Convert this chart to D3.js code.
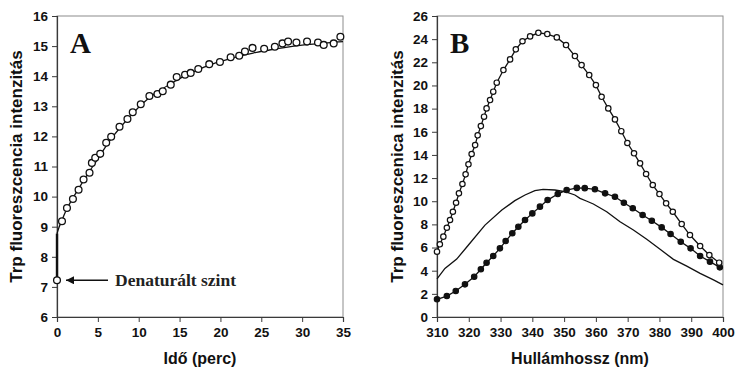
<!DOCTYPE html>
<html>
<head>
<meta charset="utf-8">
<script src="https://cdn.jsdelivr.net/npm/d3@7"></script>
<style>
  body { margin: 0; background: #fff; }
  svg { display: block; }
  .tick text { font-family: "Liberation Sans", Arial, sans-serif; font-weight: bold; }
</style>
</head>
<body>
<div id="chart"></div>
<script>
// panel A: refolding kinetics (measured points + fitted curve)
const timeA = [0, 0.61, 1.22, 1.95, 2.64, 3.25, 3.98, 4.27, 4.68, 5.29, 6.02, 6.63, 7.65, 8.62, 9.27,
  10.25, 11.31, 12.29, 12.94, 13.92, 14.65, 15.67, 16.36, 17.29, 18.63, 19.94, 21.25, 22.3, 23.0,
  23.93, 25.35, 26.66, 27.59, 28.28, 29.3, 30.6, 31.94, 32.64, 33.86, 34.68];
const intensityA = [7.22, 9.18, 9.62, 9.92, 10.23, 10.57, 10.79, 11.12, 11.29, 11.42, 11.79, 11.99, 12.32,
  12.58, 12.8, 13.07, 13.34, 13.41, 13.5, 13.72, 13.97, 14.05, 14.11, 14.24, 14.4, 14.47, 14.63, 14.68,
  14.82, 14.94, 14.91, 14.98, 15.09, 15.15, 15.12, 15.15, 15.12, 15.04, 15.09, 15.31];
// fitted curve, starting right after the jump at t = 0
const fitTimeA = [0, 0.25, 0.5, 1, 1.5, 2, 3, 4, 5, 6, 7, 8, 9, 10, 11, 12, 13, 14, 15, 16, 17, 18,
  19, 20, 21, 22, 23, 24, 26, 28, 30, 32, 34, 35];
const fitA = [8.77, 8.98, 9.14, 9.47, 9.74, 9.98, 10.42, 10.85, 11.25, 11.68, 12.05, 12.38, 12.68,
  12.97, 13.22, 13.43, 13.6, 13.76, 13.92, 14.06, 14.18, 14.3, 14.4, 14.49, 14.57, 14.64, 14.71,
  14.77, 14.87, 14.96, 15.03, 15.08, 15.13, 15.15];
const xTicksA = [0, 5, 10, 15, 20, 25, 30, 35];
const yTicksA = [6, 7, 8, 9, 10, 11, 12, 13, 14, 15, 16];

// panel B: emission spectra
const waveOpen = [310, 310.9, 312, 313.1, 314.1, 315, 316, 316.9, 318, 319, 319.9, 320.9, 322, 322.8,
  323.8, 324.8, 325.6, 326.7, 327.7, 328.8, 330.9, 333, 334.8, 336.9, 339.3, 341.9, 344.7, 347.7,
  350.6, 353.4, 355.5, 357.9, 360, 361.8, 363.9, 366, 368, 369.9, 372, 373.9, 375.8, 377.9, 380,
  382.1, 384.2, 387, 389.6, 392.8, 395.7, 398.8];
const openVals = [5.64, 6.28, 6.94, 7.71, 8.38, 9.09, 9.87, 10.68, 11.49, 12.32, 13.19, 14.08, 14.85,
  15.69, 16.49, 17.3, 18.02, 18.74, 19.46, 20.24, 21.33, 22.25, 23.12, 23.82, 24.24, 24.55, 24.44,
  24.15, 23.49, 22.54, 21.76, 20.9, 20.03, 19.02, 18.02, 17.07, 16.05, 15.03, 14.14, 13.27, 12.35,
  11.4, 10.62, 9.82, 9.09, 8.03, 7.08, 6.13, 5.35, 4.69];
const waveFilled = [310, 313.1, 315.9, 318.8, 321.7, 323.8, 325.6, 327.7, 329.8, 331.6, 333.7, 335.6,
  337.7, 340, 342.4, 344.8, 348, 350.8, 354, 356.5, 359.7, 362.9, 366, 368.8, 371.6, 374.7, 377.6,
  380.7, 383.5, 386.7, 389.8, 392.8, 395.9, 399];
const filledVals = [1.53, 1.81, 2.25, 2.82, 3.48, 4.12, 4.69, 5.27, 5.93, 6.56, 7.23, 7.8, 8.38, 8.95,
  9.53, 10.1, 10.62, 10.97, 11.15, 11.13, 11.03, 10.68, 10.39, 9.87, 9.39, 8.81, 8.32, 7.74, 7.17,
  6.5, 5.93, 5.27, 4.78, 4.29];
const waveLine = [310, 312.5, 316.2, 319.9, 325.1, 330.4, 334.5, 337.7, 340.8, 343.4, 347.1, 350.3,
  353.4, 355, 357, 359.2, 363.4, 367.6, 371.8, 376, 380.2, 384.4, 388.6, 392.8, 397, 400];
const lineVals = [3.3, 4.2, 5.0, 6.22, 7.94, 9.24, 10.05, 10.54, 10.91, 11.03, 10.97, 10.82, 10.54,
  10.25, 10.02, 9.76, 9.09, 8.23, 7.51, 6.71, 5.85, 4.98, 4.4, 3.77, 3.2, 2.78];
const xTicksB = [310, 320, 330, 340, 350, 360, 370, 380, 390, 400];
const yTicksB = [0, 2, 4, 6, 8, 10, 12, 14, 16, 18, 20, 22, 24, 26];

const W = 735, H = 367;
const sans = "'Liberation Sans', Arial, sans-serif";
const serif = "'Liberation Serif', 'Times New Roman', serif";

const svg = d3
  .select("#chart")
  .append("svg")
  .attr("width", W)
  .attr("height", H);

svg.append("rect").attr("width", W).attr("height", H).attr("fill", "#fff");

// draws frame, axes and titles of one panel, returns scales and group
function panel(opts) {
  const x = d3.scaleLinear().domain(opts.xDomain).range([opts.left, opts.left + opts.width]);
  const y = d3.scaleLinear().domain(opts.yDomain).range([opts.top + opts.height, opts.top]);
  const g = svg.append("g");

  // grey plot border (top/right)
  g.append("rect")
    .attr("x", opts.left)
    .attr("y", opts.top)
    .attr("width", opts.width)
    .attr("height", opts.height)
    .attr("fill", "none")
    .attr("stroke", "#8c8c8c")
    .attr("stroke-width", 1);

  const xAxis = g
    .append("g")
    .attr("transform", `translate(0,${opts.top + opts.height})`)
    .call(d3.axisBottom(x).tickValues(opts.xTicks).tickSize(5).tickPadding(5));
  const yAxis = g
    .append("g")
    .attr("transform", `translate(${opts.left},0)`)
    .call(d3.axisLeft(y).tickValues(opts.yTicks).tickSize(5).tickPadding(4));

  [xAxis, yAxis].forEach(function(a) {
    a.select(".domain").attr("stroke", "#3a3a3a").attr("stroke-width", 1.2);
    a.selectAll(".tick line").attr("stroke", "#3a3a3a");
    a.selectAll(".tick text").attr("fill", "#111").style("font-size", "13.5px");
  });

  g.append("text")
    .attr("x", opts.left + opts.width / 2)
    .attr("y", 364)
    .attr("text-anchor", "middle")
    .style("font-family", sans)
    .style("font-weight", "bold")
    .style("font-size", "16px")
    .attr("fill", "#111")
    .text(opts.xTitle);

  g.append("text")
    .attr("transform", `translate(${opts.yTitleX},${opts.top + opts.height / 2}) rotate(-90)`)
    .attr("text-anchor", "middle")
    .attr("dy", "0.35em")
    .style("font-family", sans)
    .style("font-weight", "bold")
    .style("font-size", "17px")
    .attr("fill", "#111")
    .text(opts.yTitle);

  g.append("text")
    .attr("x", opts.left + 13)
    .attr("y", opts.top + 37)
    .style("font-family", serif)
    .style("font-weight", "bold")
    .style("font-size", "29px")
    .attr("fill", "#111")
    .text(opts.letter);

  return { x: x, y: y, g: g };
}

// ---- panel A ----
const A = panel({
  left: 57, top: 16, width: 286, height: 301,
  xDomain: [0, 35], yDomain: [6, 16],
  xTicks: xTicksA, yTicks: yTicksA,
  xTitle: "Idő (perc)", yTitle: "Trp fluoreszcencia intenzitás",
  yTitleX: 16, letter: "A"
});

const fitLineA = d3
  .line()
  .x(function(d) { return A.x(d[0]); })
  .y(function(d) { return A.y(d[1]); })
  .curve(d3.curveMonotoneX);

A.g.append("path")
  .datum(fitTimeA.map(function(t, i) { return [t, fitA[i]]; }))
  .attr("d", fitLineA)
  .attr("fill", "none")
  .attr("stroke", "#111")
  .attr("stroke-width", 1.3);

// thicker jump at t = 0, from the denatured level up to the start of the fit
A.g.append("line")
  .attr("x1", A.x(0)).attr("x2", A.x(0))
  .attr("y1", A.y(intensityA[0])).attr("y2", A.y(fitA[0]))
  .attr("stroke", "#111")
  .attr("stroke-width", 2.4);

A.g.selectAll("circle.pt")
  .data(timeA.map(function(t, i) { return [t, intensityA[i]]; }))
  .enter()
  .append("circle")
  .attr("class", "pt")
  .attr("cx", function(d) { return A.x(d[0]); })
  .attr("cy", function(d) { return A.y(d[1]); })
  .attr("r", 3.4)
  .attr("fill", "#fff")
  .attr("stroke", "#111")
  .attr("stroke-width", 1.3);

// arrow pointing at the denatured level
svg.append("defs")
  .append("marker")
  .attr("id", "arrowhead")
  .attr("viewBox", "0 -5 10 10")
  .attr("refX", 10)
  .attr("refY", 0)
  .attr("orient", "auto")
  .attr("markerUnits", "userSpaceOnUse")
  .attr("markerWidth", 10)
  .attr("markerHeight", 8)
  .append("path")
  .attr("d", "M 0,-5 L 10,0 L 0,5 Z")
  .attr("fill", "#111");

const denatY = A.y(intensityA[0]);
A.g.append("line")
  .attr("x1", A.x(0) + 51).attr("x2", A.x(0) + 9)
  .attr("y1", denatY).attr("y2", denatY)
  .attr("stroke", "#111")
  .attr("stroke-width", 1.4)
  .attr("marker-end", "url(#arrowhead)");

A.g.append("text")
  .attr("x", A.x(0) + 58)
  .attr("y", denatY + 6)
  .style("font-family", serif)
  .style("font-weight", "bold")
  .style("font-size", "17.5px")
  .attr("fill", "#222")
  .text("Denaturált szint");

// ---- panel B ----
const B = panel({
  left: 437, top: 16, width: 286, height: 301,
  xDomain: [310, 400], yDomain: [0, 26],
  xTicks: xTicksB, yTicks: yTicksB,
  xTitle: "Hullámhossz (nm)", yTitle: "Trp fluoreszcenica intenzitás",
  yTitleX: 397, letter: "B"
});

const lineB = d3
  .line()
  .x(function(d) { return B.x(d[0]); })
  .y(function(d) { return B.y(d[1]); });

const series = [
  { xs: waveLine, ys: lineVals, marker: null },
  { xs: waveFilled, ys: filledVals, marker: "#111" },
  { xs: waveOpen, ys: openVals, marker: "#fff" }
];

series.forEach(function(s) {
  const pts = s.xs.map(function(w, i) { return [w, s.ys[i]]; });
  B.g.append("path")
    .datum(pts)
    .attr("d", lineB)
    .attr("fill", "none")
    .attr("stroke", "#111")
    .attr("stroke-width", 1.3);
  if (s.marker) {
    B.g.append("g")
      .selectAll("circle")
      .data(pts)
      .enter()
      .append("circle")
      .attr("cx", function(d) { return B.x(d[0]); })
      .attr("cy", function(d) { return B.y(d[1]); })
      .attr("r", 2.7)
      .attr("fill", s.marker)
      .attr("stroke", "#111")
      .attr("stroke-width", 1.2);
  }
});
</script>
</body>
</html>
